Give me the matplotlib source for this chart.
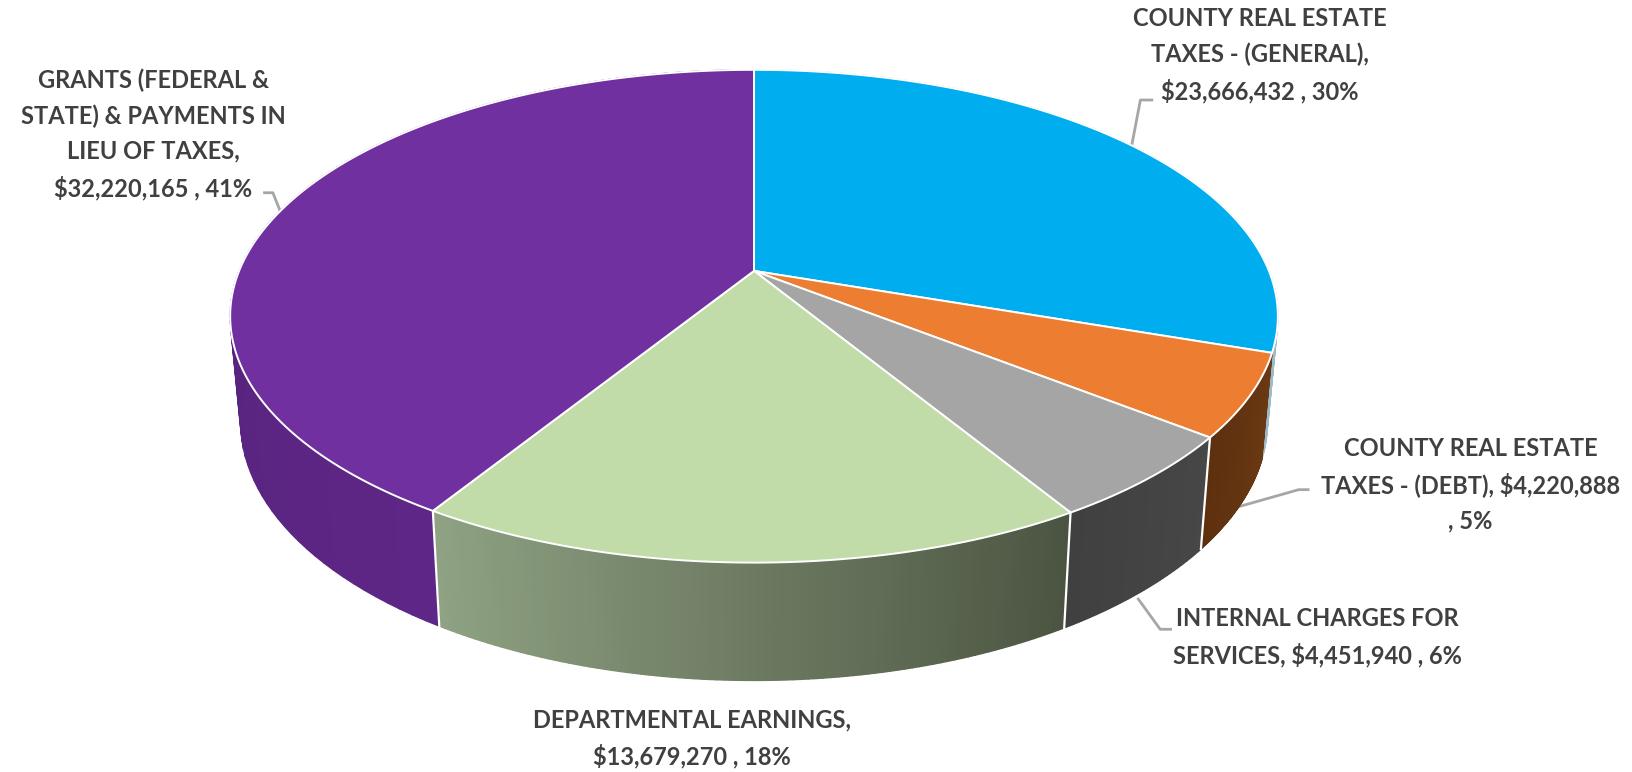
import numpy as np
import matplotlib as mpl
from matplotlib import pyplot as plt
from matplotlib.colors import to_rgb

plt.rcParams['font.family'] = ['Lato', 'DejaVu Sans']

categories = ["COUNTY REAL ESTATE TAXES - (GENERAL)", "COUNTY REAL ESTATE TAXES - (DEBT)",
              "INTERNAL CHARGES FOR SERVICES", "DEPARTMENTAL EARNINGS",
              "GRANTS (FEDERAL & STATE) & PAYMENTS IN LIEU OF TAXES"]
values = [23666432, 4220888, 4451940, 13679270, 32220165]
labels = ["COUNTY REAL ESTATE\nTAXES - (GENERAL),\n$23,666,432 , 30%",
          "COUNTY REAL ESTATE\nTAXES - (DEBT), $4,220,888\n, 5%",
          "INTERNAL CHARGES FOR\nSERVICES, $4,451,940 , 6%",
          "DEPARTMENTAL EARNINGS,\n$13,679,270 , 18%",
          "GRANTS (FEDERAL &\nSTATE) & PAYMENTS IN\nLIEU OF TAXES,\n$32,220,165 , 41%"]

top_colors = ["#00AEEF", "#ED7D31", "#A5A5A5", "#C1DBA9", "#7030A0"]
side_start = ["#9DBBC6", "#6B3A14", "#474747", "#8FA283", "#5E2686"]
side_end = ["#9DBBC6", "#5E300E", "#404040", "#4B5441", "#4E1F72"]

label_pos = [(1210, 53), (1412, 465), (1265, 612), (664, 709), (147, 129)]
leaders = [[(1087, 138), (1095, 96), (1106, 96)],
           [(1187, 487), (1247, 470), (1256, 470)],
           [(1093, 575), (1114, 604), (1124, 604)],
           [(270, 205), (262, 185), (254, 185)]]

# perspective of the disc, in px of the 1568 wide picture
cx, cy = 724, 260
A, B, k = 494.4, 228.5, 0.184
s_low, y_low, B_low = 0.98, 359, 240


def rim_top(t):
    u, v = np.cos(t), np.sin(t)
    w = 1 + k * v
    return cx + A * u / w, cy - B * v / w


def rim_low(t):
    u, v = np.cos(t), np.sin(t)
    w = 1 + k * v
    return cx + s_low * A * u / w, y_low - B_low * v / w


fig = plt.figure(figsize=(16.33, 7.72), dpi=100)
ax = fig.add_axes([0, 0, 1, 1])
ax.set_xlim(0, 1568)
ax.set_ylim(741, 0)
ax.axis("off")

total = sum(values)
edges = np.pi / 2 - 2 * np.pi * np.concatenate([[0], np.cumsum(values)]) / total

# sides
for i in range(len(values)):
    ts = np.linspace(edges[i], edges[i + 1], 90)
    c0, c1 = np.array(to_rgb(side_start[i])), np.array(to_rgb(side_end[i]))
    for j in range(len(ts) - 1):
        x1, y1 = rim_top(ts[j:j + 2])
        x2, y2 = rim_low(ts[j:j + 2])
        f = j / (len(ts) - 2)
        if i == 3:
            f = 1 - f  # green goes light on the left
        col = c0 + (c1 - c0) * f
        ax.fill(np.r_[x1, x2[::-1]], np.r_[y1, y2[::-1]], color=col, lw=1.0, zorder=2)

# white splits on the side
for e in edges[2:5]:
    x1, y1 = rim_top(e)
    x2, y2 = rim_low(e)
    ax.plot([x1, x2], [y1, y2], color="white", lw=1.6, zorder=3)

# top face
for i in range(len(values)):
    ts = np.linspace(edges[i], edges[i + 1], 200)
    x, y = rim_top(ts)
    ax.fill(np.r_[cx, x], np.r_[cy, y], facecolor=top_colors[i], edgecolor="white",
            lw=1.4, joinstyle="round", zorder=4)

for pts in leaders:
    xs, ys = zip(*pts)
    ax.plot(xs, ys, color="#A6A6A6", lw=2, zorder=1)

for lab, (x, y) in zip(labels, label_pos):
    ax.text(x, y, lab, ha="center", va="center", fontsize=17, fontweight="bold",
            color="#404040", linespacing=1.62, zorder=5)

fig.savefig("out.png", dpi=100)
